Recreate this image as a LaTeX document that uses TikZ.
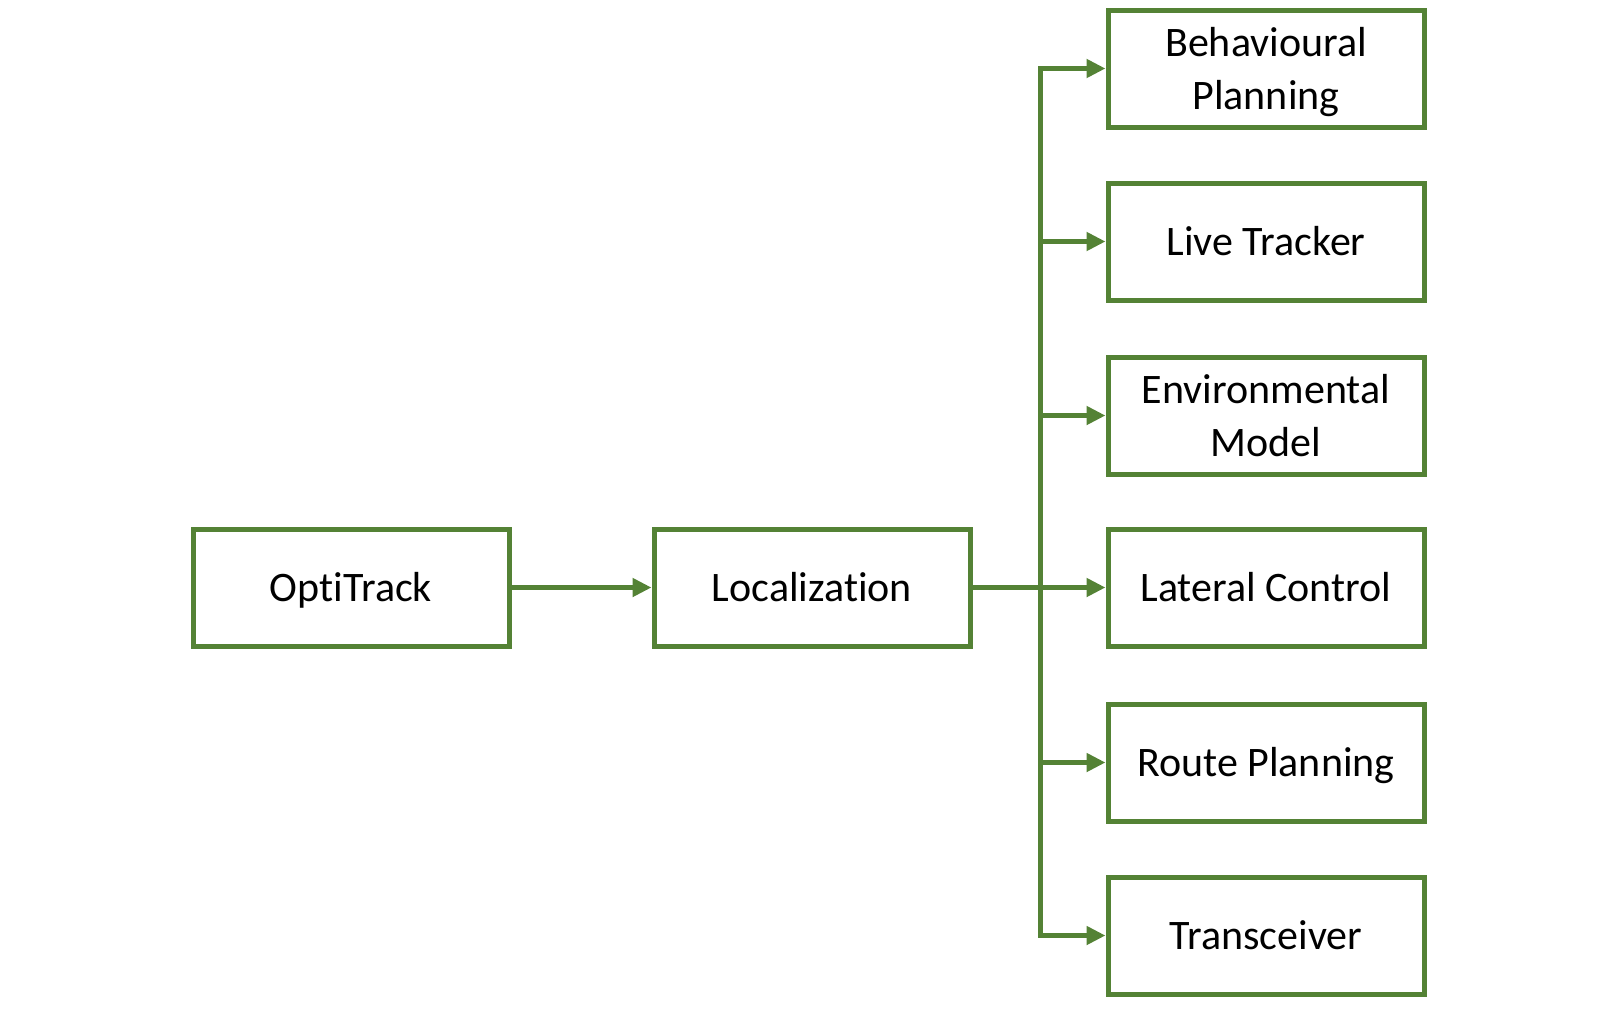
\documentclass[tikz,border=0pt]{standalone}
\usepackage{fontspec}
\setmainfont{Carlito}[Ligatures=NoCommon]
\usetikzlibrary{arrows.meta}
\definecolor{grn}{HTML}{548235}
\newcommand\lnstrut{\rule[-11.3pt]{0pt}{51.3pt}}
\begin{document}
\begin{tikzpicture}[x=1pt,y=-1pt,
  box/.style={draw=grn,line width=5pt,fill=white,minimum width=316pt,minimum height=117pt,
    inner sep=0pt,align=center,font=\fontsize{42}{51.2}\selectfont},
  conn/.style={draw=grn,line width=5pt,-{Triangle[length=19pt,width=18pt]}},
  busline/.style={draw=grn,line width=5pt,line cap=rect}]
\useasboundingbox (0,0) rectangle (1614,1018);
\node[box] (opt) at (351,587.5) {\lnstrut OptiTrack};
\node[box] (loc) at (812,587.5) {\lnstrut Localization};
\node[box] (bp) at (1266,68.5) {\lnstrut Behavioural\\\lnstrut Planning};
\node[box] (lt) at (1266,241.5) {\lnstrut Live Tracker};
\node[box] (em) at (1266,415.5) {\lnstrut Environmental\\\lnstrut Model};
\node[box] (lc) at (1266,587.5) {\lnstrut Lateral Control};
\node[box] (rp) at (1266,762.5) {\lnstrut Route Planning};
\node[box] (tr) at (1266,935.5) {\lnstrut Transceiver};
\coordinate (bus) at (1040,0);
\draw[busline] (bus |- bp.west) -- (bus |- tr.west);
\draw[conn] (opt.east) -- (loc.west);
\draw[conn] (loc.east) -- (lc.west);
\foreach \n in {bp,lt,em,rp,tr}
  \draw[conn] (bus |- \n.west) -- (\n.west);
\end{tikzpicture}
\end{document}
